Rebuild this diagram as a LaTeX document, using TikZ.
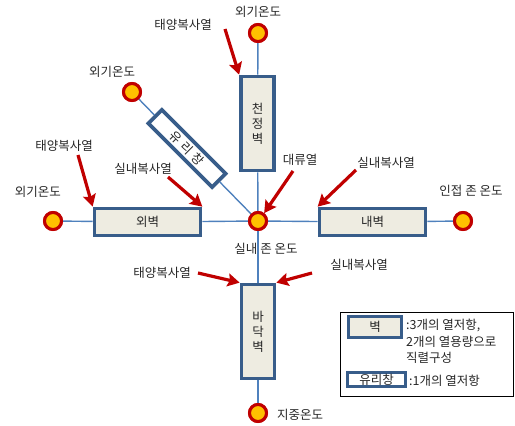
\documentclass[tikz,border=0pt]{standalone}
\usepackage{fontspec}
\setmainfont{Noto Sans CJK KR}
\usetikzlibrary{arrows.meta}
\definecolor{wallblue}{HTML}{385D8A}
\definecolor{wallfill}{HTML}{EEECE1}
\definecolor{linkblue}{HTML}{4F81BD}
\definecolor{heatred}{HTML}{C00000}
\definecolor{tempfill}{HTML}{FFC000}
\definecolor{txt}{HTML}{262626}
\tikzset{
  wall/.style={draw=wallblue, fill=wallfill, line width=3.7pt, inner sep=0pt, rectangle, text=txt},
  glassbox/.style={draw=wallblue, fill=white, line width=3.7pt, inner sep=0pt, rectangle, text=txt},
  temp/.style={circle, draw=heatred, fill=tempfill, line width=3pt, minimum size=17pt, inner sep=0pt},
  link/.style={draw=linkblue, line width=1.4pt},
  heat/.style={draw=heatred, line width=3.2pt, -{Stealth[length=12pt,width=13pt,inset=2pt]}},
  lbl/.style={text=txt, inner sep=0pt, font=\fontsize{12.5}{14}\selectfont},
}
\begin{document}
\begin{tikzpicture}[x=1pt,y=-1pt]
\useasboundingbox (0,0) rectangle (515,426);
% temperature nodes
\node[temp] (ctop) at (258,33) {};
\node[temp] (cul) at (132,92) {};
\node[temp] (cleft) at (53,221) {};
\node[temp] (cc) at (258,221) {};
\node[temp] (cright) at (463,221) {};
\node[temp] (cbot) at (258,413) {};
% walls
\node[wall, minimum width=33pt, minimum height=94pt, align=center, font=\fontsize{12.5}{15}\selectfont] (ceil) at (257.5,123.5) {천\\정\\벽};
\node[glassbox, minimum width=90pt, minimum height=19pt, rotate=-45, font=\fontsize{12.5}{14}\selectfont\addfontfeatures{LetterSpace=35}] (glass) at (187,148.5) {유리창};
\node[wall, minimum width=106pt, minimum height=27pt, font=\fontsize{12.5}{14}\selectfont] (outer) at (147.5,222) {외벽};
\node[wall, minimum width=106pt, minimum height=27pt, font=\fontsize{12.5}{14}\selectfont] (inner) at (372.5,222) {내벽};
\node[wall, minimum width=33pt, minimum height=94pt, align=center, font=\fontsize{12.5}{15}\selectfont] (floor) at (258,331.5) {바\\닥\\벽};
% links
\draw[link] (ctop) -- (ceil);
\draw[link] (ceil) -- (cc);
\draw[link] (cc) -- (floor);
\draw[link] (floor) -- (cbot);
\draw[link] (cleft) -- (outer);
\draw[link] (outer) -- (cc);
\draw[link] (cc) -- (inner);
\draw[link] (inner) -- (cright);
\draw[link] (cul) -- (glass);
\draw[link] (glass) -- (cc);
% redraw temperature circles on top
\foreach \n in {ctop,cul,cleft,cc,cright,cbot} {\node[temp] at (\n) {};}
% labels
\node[lbl] (ltop) at (258,12) {외기온도};
\node[lbl] (lsuntop) at (183,25) {태양복사열};
\node[lbl] (lul) at (112,72) {외기온도};
\node[lbl] (lradul) at (143,169) {실내복사열};
\node[lbl] (lconv) at (300,160) {대류열};
\node[lbl] (lradr) at (386,163) {실내복사열};
\node[lbl] (lright) at (471,191) {인접 존 온도};
\node[lbl] (lleft) at (38,192) {외기온도};
\node[lbl] (lsunl) at (64,146) {태양복사열};
\node[lbl] (lzone) at (266,249) {실내 존 온도};
\node[lbl] (lsunb) at (162,273) {태양복사열};
\node[lbl] (lradb) at (359,265) {실내복사열};
\node[lbl] (lground) at (300,415) {지중온도};
% arrow tails
\coordinate (a1) at (225,29);
\coordinate (a2) at (78,155);
\coordinate (a3) at (168,177);
\coordinate (a4) at (293,171);
\coordinate (a5) at (356,170);
\coordinate (a6) at (198,273);
\coordinate (a7) at (312,273);
\draw[heat] (a1) -- (ceil.north west);
\draw[heat] (a2) -- (outer.north west);
\draw[heat] (a3) -- (outer.north east);
\draw[heat] (a4) -- (cc.52);
\draw[heat] (a5) -- (inner.north west);
\draw[heat] (a6) -- (floor.north west);
\draw[heat] (a7) -- (floor.north east);
% legend
\node[draw=black, line width=1.5pt, minimum width=173pt, minimum height=84pt, inner sep=0pt] (legend) at (427,354.5) {};
\node[wall, minimum width=53pt, minimum height=21pt, font=\fontsize{12.5}{14}\selectfont] (lgwall) at (375,327) {벽};
\node[glassbox, minimum width=58pt, minimum height=14pt, font=\fontsize{12.5}{14}\selectfont] (lgglass) at (376.5,379.5) {유리창};
\node[lbl, anchor=north west, align=left, font=\fontsize{12.5}{16.5}\selectfont] (lgtxt1) at (406,319) {:3개의 열저항,\\2개의 열용량으로\\직렬구성};
\node[lbl, anchor=west] (lgtxt2) at (409,381) {:1개의 열저항};
\end{tikzpicture}
\end{document}
